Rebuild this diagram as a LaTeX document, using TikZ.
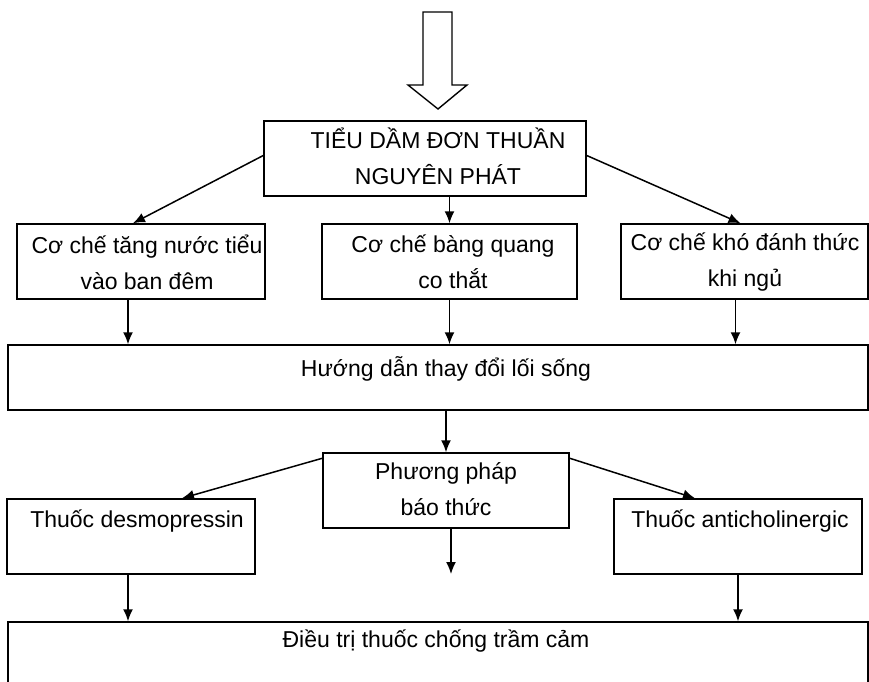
\documentclass[tikz,border=0pt]{standalone}
\usepackage{fontspec}
\setmainfont{Liberation Sans}
\usetikzlibrary{arrows.meta,calc}

\tikzset{
    box/.style={draw,line width=1.5pt,minimum width=#1,minimum height=75pt,inner sep=0pt},
    txt/.style={align=center,inner sep=0pt,font=\fontsize{23}{36}\selectfont},
    arr/.style={-{Latex[length=12pt,width=10pt]},line width=1.5pt}
}

\begin{document}
\begin{tikzpicture}[x=1pt,y=-1pt]
    \useasboundingbox (0,0) rectangle (869,681);

    % big hollow arrow
    \draw [line width=1.4pt] (423,12) -- (452,12) -- (452,85) -- (467,85)
        -- (438,109) -- (408,85) -- (423,85) -- cycle;

    % boxes
    \node[box=322pt] (top) at (425,158.5) {};
    \node[box=248pt] (cnt) at (141,261.5) {};
    \node[box=255pt] (cbq) at (449.5,261.5) {};
    \node[box=247pt] (ckd) at (744.5,261.5) {};
    \node[box=860pt,minimum height=65pt] (hd) at (438,377.5) {};
    \node[box=246pt] (pp) at (446,490.5) {};
    \node[box=248pt] (desmo) at (131,536.5) {};
    \node[box=248pt] (anti) at (738,536.5) {};
    \node[box=860pt] (dt) at (438,659.5) {};

    % texts
    \node[txt] (top-t) at (438,156) {TIỂU DẦM ĐƠN THUẦN\\NGUYÊN PHÁT};
    \node[txt] (cnt-t) at (147,262) {Cơ chế tăng nước tiểu\\vào ban đêm};
    \node[txt] (cbq-t) at (453,262) {Cơ chế bàng quang\\co thắt};
    \node[txt] (ckd-t) at (745,262) {Cơ chế khó đánh thức\\khi ngủ};
    \node[txt] (hd-t) at (446,369) {Hướng dẫn thay đổi lối sống};
    \node[txt] (pp-t) at (446,489) {Phương pháp\\báo thức};
    \node[txt] (desmo-t) at (137,521) {Thuốc desmopressin};
    \node[txt] (anti-t) at (740,521) {Thuốc anticholinergic};
    \node[txt] (dt-t) at (436,641) {Điều trị thuốc chống trầm cảm};

    % connectors
    \draw [arr] ([yshift=3pt]top.west) -- ([xshift=-8pt]cnt.north);
    \draw [arr] (top.south -| cbq.north) -- (cbq.north);
    \draw [arr] ([yshift=3pt]top.east) -- ([xshift=-4pt]ckd.north);

    \draw [arr] ($(cnt.south)+(-13,0)$) -- ($(cnt.south |- hd.north)+(-13,0)$);
    \draw [arr] (cbq.south) -- (cbq.south |- hd.north);
    \draw [arr] ($(ckd.south)+(-9,0)$) -- ($(ckd.south |- hd.north)+(-9,0)$);

    \draw [arr] (pp.north |- hd.south) -- (pp.north);
    \draw [arr] ([yshift=-6pt]pp.north west) -- ([xshift=51pt]desmo.north);
    \draw [arr] ([yshift=-6pt]pp.north east) -- ([xshift=-43pt]anti.north);
    \coordinate (pp-end) at (451,574);
    \draw [arr] ($(pp.south)+(5,0)$) -- (pp-end);

    \draw [arr] ($(desmo.south)+(-3,0)$) -- ($(desmo.south |- dt.north)+(-3,0)$);
    \draw [arr] (anti.south) -- (anti.south |- dt.north);
\end{tikzpicture}
\end{document}
